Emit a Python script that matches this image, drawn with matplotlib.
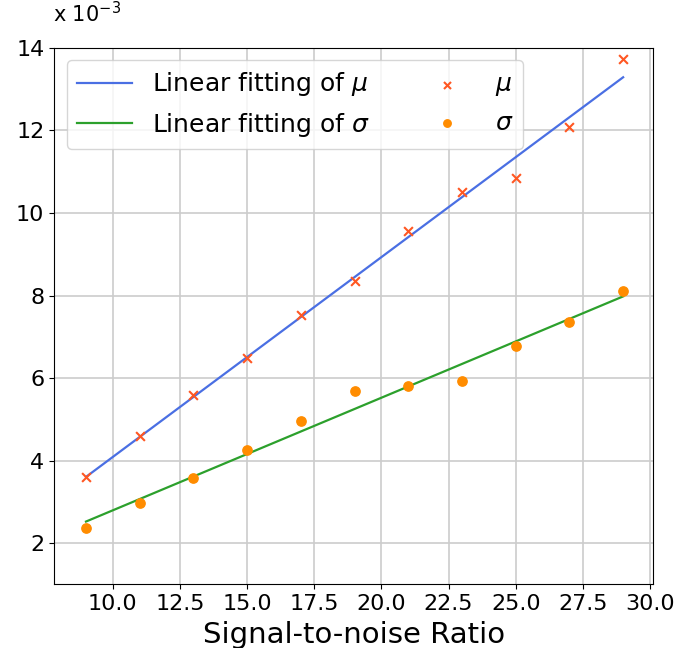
import numpy as np
import matplotlib
matplotlib.use("Agg")
from matplotlib import pyplot as plt

# signal-to-noise ratio and the fitted parameters (units of 1e-3)
snr = [9, 11, 13, 15, 17, 19, 21, 23, 25, 27, 29]
mu = [3.60, 4.59, 5.60, 6.48, 7.54, 8.36, 9.57, 10.52, 10.85, 12.09, 13.73]
sigma = [2.36, 2.97, 3.57, 4.27, 4.95, 5.70, 5.80, 5.94, 6.77, 7.35, 8.10]

x = np.array(snr)
mu_arr = np.array(mu)
sigma_arr = np.array(sigma)

# linear fits
p_mu = np.polyfit(x, mu_arr, 1)
p_sigma = np.polyfit(x, sigma_arr, 1)

fig = plt.figure(figsize=(6.84, 6.48), dpi=100)
ax = fig.add_axes([0.079, 0.098, 0.876, 0.828])

ax.plot(x, np.polyval(p_mu, x), color='#4a6fe3', lw=1.6, label=r'Linear fitting of $\mu$')
ax.plot(x, np.polyval(p_sigma, x), color='#2ca02c', lw=1.6, label=r'Linear fitting of $\sigma$')
ax.scatter(x, mu_arr, marker='x', color='#ff5722', s=40, lw=1.5, label=r'$\mu$', zorder=3)
ax.scatter(x, sigma_arr, marker='o', color='#ff8c00', s=45, label=r'$\sigma$', zorder=3)

ax.set_xlim(7.81, 30.12)
ax.set_ylim(1, 14)
ax.set_xticks(np.arange(10, 30.1, 2.5))
ax.set_yticks(np.arange(2, 14.1, 2))
ax.tick_params(labelsize=16)
ax.grid(True, color='#cccccc', lw=1.2)
ax.set_axisbelow(True)
ax.set_xlabel('Signal-to-noise Ratio', fontsize=21, labelpad=5)

# scale factor shown above the y axis
ax.text(-0.002, 1.04, r'x $10^{-3}$', transform=ax.transAxes, fontsize=15,
        ha='left', va='bottom')

ax.legend(ncol=2, fontsize=18, loc='upper left', columnspacing=2.0,
          handlelength=2.2, framealpha=0.8, markerscale=0.8)

fig.savefig("out.png", dpi=100)
